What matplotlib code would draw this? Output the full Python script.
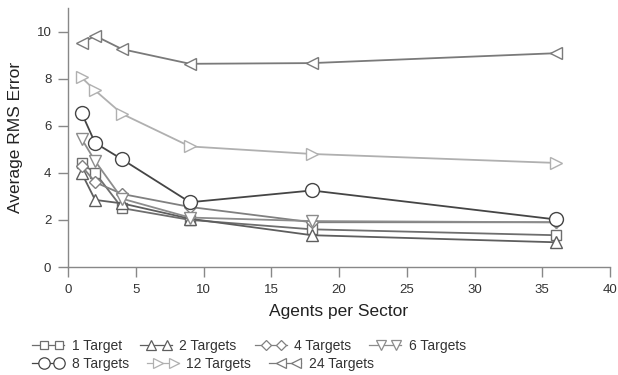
import matplotlib
matplotlib.use("Agg")
import matplotlib.pyplot as plt
from matplotlib.lines import Line2D
from matplotlib.legend_handler import HandlerBase

plt.rcParams['font.family'] = ['Liberation Sans', 'DejaVu Sans']

agents = [1, 2, 4, 9, 18, 36]

t1 = [4.4, 4.0, 2.5, 2.0, 1.6, 1.35]
t2 = [4.0, 2.85, 2.7, 2.05, 1.35, 1.05]
t4 = [4.3, 3.6, 3.1, 2.55, 1.9, 1.9]
t6 = [5.45, 4.5, 2.9, 2.1, 1.95, 1.9]
t8 = [6.55, 5.27, 4.57, 2.75, 3.25, 2.02]
t12 = [8.05, 7.5, 6.5, 5.12, 4.8, 4.42]
t24 = [9.5, 9.82, 9.25, 8.63, 8.66, 9.08]

labels = ["1 Target", "2 Targets", "4 Targets", "6 Targets",
          "8 Targets", "12 Targets", "24 Targets"]
series = [t1, t2, t4, t6, t8, t12, t24]
markers = ["s", "^", "D", "v", "o", ">", "<"]
sizes = [7, 8.5, 6, 8.5, 10, 8.5, 9]
colors = ["#6e6e6e", "#5e5e5e", "#808080", "#8c8c8c", "#454545", "#b0b0b0", "#7a7a7a"]

fig = plt.figure(figsize=(6.18, 3.75), dpi=100)
ax = fig.add_axes([68 / 618, 1 - 267 / 375, (610 - 68) / 618, (267 - 8) / 375])

handles = []
for ys, lab, m, ms, c in zip(series, labels, markers, sizes, colors):
    h, = ax.plot(agents, ys, color=c, lw=1.3, marker=m, markersize=ms,
                 markerfacecolor="white", markeredgecolor=c, markeredgewidth=1.0,
                 label=lab, clip_on=False)
    handles.append(h)

ax.set_xlim(0, 40)
ax.set_ylim(0, 11)
ax.set_xticks(range(0, 41, 5))
ax.set_yticks(range(0, 11, 2))

for side in ["top", "right"]:
    ax.spines[side].set_visible(False)
for side in ["left", "bottom"]:
    ax.spines[side].set_color("#888888")
    ax.spines[side].set_linewidth(1.0)
ax.tick_params(direction="out", length=7, width=1.0, color="#888888",
               labelsize=9.5, labelcolor="#333333", pad=5)

ax.set_xlabel("Agents per Sector", fontsize=12.5, color="#222222", labelpad=6)
ax.set_ylabel("Average RMS Error", fontsize=12.5, color="#222222", labelpad=10)


class KeyHandler(HandlerBase):
    """Short line with a leading stub and two open markers: -o-o"""

    def create_artists(self, legend, orig_handle, xdescent, ydescent,
                       width, height, fontsize, trans):
        y = height / 2 - ydescent
        x0 = -xdescent
        c = orig_handle.get_color()
        line = Line2D([x0, x0 + width], [y, y], color=c, lw=0.9)
        pts = Line2D([x0 + 0.36 * width, x0 + 0.84 * width], [y, y],
                     linestyle="none", marker=orig_handle.get_marker(),
                     markersize=0.82 * orig_handle.get_markersize(),
                     markerfacecolor="white", markeredgecolor=c,
                     markeredgewidth=0.9)
        line.set_transform(trans)
        pts.set_transform(trans)
        return [line, pts]


common = dict(frameon=False, handlelength=2.3, handletextpad=0.55,
              columnspacing=1.3, fontsize=10, borderaxespad=0, borderpad=0,
              handler_map={Line2D: KeyHandler()})
leg1 = fig.legend(handles[:4], labels[:4], ncol=4, loc="center left",
                  bbox_to_anchor=(32 / 618, 1 - 346 / 375), **common)
leg2 = fig.legend(handles[4:], labels[4:], ncol=3, loc="center left",
                  bbox_to_anchor=(32 / 618, 1 - 364 / 375), **common)
for leg in (leg1, leg2):
    for t in leg.get_texts():
        t.set_color("#333333")

fig.savefig("out.png", dpi=100)
